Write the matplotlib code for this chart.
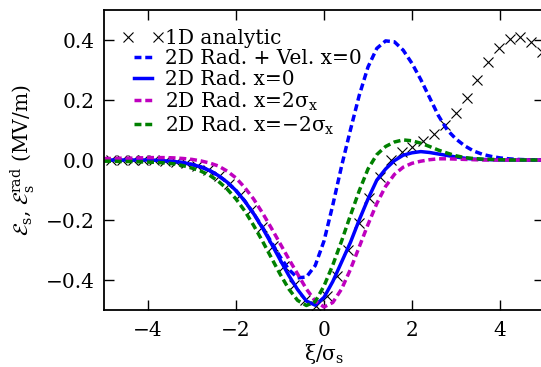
import numpy as np
import matplotlib
matplotlib.use("Agg")
import matplotlib.pyplot as plt
from matplotlib.legend_handler import HandlerLine2D

plt.rcParams["font.family"] = ["DejaVu Serif"]
plt.rcParams["mathtext.fontset"] = "dejavuserif"
plt.rcParams["mathtext.default"] = "rm"

# longitudinal coordinate grid for the 2D field curves (xi / sigma_s)
xi = np.round(np.arange(-5.0, 5.0001, 0.2), 2)

# 2D radiative + velocity field, x = 0
rad_vel_x0 = [0.0, 0.0, 0.0, 0.0, 0.0, 0.0, -0.001, -0.003, -0.005, -0.009,
              -0.015, -0.023, -0.035, -0.052, -0.074, -0.102, -0.137, -0.178, -0.224, -0.273,
              -0.322, -0.365, -0.393, -0.39, -0.352, -0.27, -0.15, -0.02, 0.1, 0.215,
              0.31, 0.372, 0.397, 0.394, 0.366, 0.322, 0.268, 0.208, 0.148, 0.1,
              0.07, 0.047, 0.03, 0.019, 0.012, 0.007, 0.004, 0.002, 0.001, 0.0, 0.0]

# 2D radiative field, x = 0
rad_x0 = [0.0, 0.0, 0.0, 0.0, 0.0, 0.0, -0.001, -0.003, -0.005, -0.009,
          -0.015, -0.023, -0.035, -0.052, -0.074, -0.102, -0.137, -0.179, -0.226, -0.278,
          -0.332, -0.385, -0.432, -0.47, -0.484, -0.458, -0.405, -0.34, -0.275, -0.2,
          -0.13, -0.067, -0.03, -0.002, 0.016, 0.024, 0.028, 0.025, 0.02, 0.015,
          0.01, 0.006, 0.003, 0.002, 0.001, 0.0, 0.0, 0.0, 0.0, 0.0, 0.0]

# 2D radiative field, x = 2 sigma_x
rad_xp2 = [0.005, 0.005, 0.006, 0.006, 0.007, 0.008, 0.008, 0.008, 0.007, 0.005,
           0.002, -0.003, -0.01, -0.02, -0.037, -0.06, -0.092, -0.13, -0.176, -0.226,
           -0.278, -0.33, -0.38, -0.43, -0.47, -0.49, -0.475, -0.43, -0.365, -0.29,
           -0.215, -0.145, -0.088, -0.048, -0.024, -0.011, -0.004, 0.001, 0.004, 0.004,
           0.003, 0.002, 0.001, 0.0, 0.0, 0.0, 0.0, 0.0, 0.0, 0.0, 0.0]

# 2D radiative field, x = -2 sigma_x
rad_xm2 = [-0.004, -0.004, -0.005, -0.005, -0.006, -0.007, -0.008, -0.01, -0.013, -0.019,
           -0.027, -0.037, -0.051, -0.071, -0.097, -0.13, -0.17, -0.218, -0.27, -0.325,
           -0.38, -0.43, -0.468, -0.485, -0.472, -0.42, -0.35, -0.27, -0.185, -0.103,
           -0.03, 0.018, 0.045, 0.06, 0.067, 0.064, 0.056, 0.045, 0.033, 0.023,
           0.014, 0.008, 0.005, 0.003, 0.002, 0.001, 0.0, 0.0, 0.0, 0.0, 0.0]

# 1D analytic result
xi_1d = [-4.84, -4.60, -4.35, -4.11, -3.86, -3.62, -3.37, -3.13, -2.88, -2.64,
         -2.39, -2.15, -1.90, -1.66, -1.41, -1.17, -0.92, -0.68, -0.43, -0.19,
         0.06, 0.30, 0.54, 0.79, 1.03, 1.28, 1.52, 1.77, 2.01, 2.26,
         2.50, 2.75, 2.99, 3.24, 3.48, 3.73, 3.97, 4.22, 4.46, 4.71, 4.95]
e_1d = [0.0, 0.0, 0.0, 0.0, -0.001, -0.003, -0.006, -0.011, -0.02, -0.033,
        -0.053, -0.08, -0.118, -0.165, -0.222, -0.287, -0.353, -0.418, -0.468, -0.485,
        -0.452, -0.385, -0.300, -0.210, -0.125, -0.055, 0.0, 0.028, 0.045, 0.064,
        0.086, 0.117, 0.156, 0.207, 0.268, 0.326, 0.372, 0.402, 0.410, 0.392, 0.360]

xticks = [-4, -2, 0, 2, 4]
yticks = [-0.4, -0.2, 0.0, 0.2, 0.4]

fs = 14.5
fig = plt.figure(figsize=(5.41, 3.67), dpi=100)
ax = fig.add_axes([104 / 541, 57 / 367, 440 / 541, 300 / 367])

lw = 2.5
dash = (2.0, 1.1)
(analytic,) = ax.plot(xi_1d, e_1d, linestyle="none", marker="x", color="black",
                      markersize=7, markeredgewidth=0.8, label="1D analytic")
ax.plot(xi, rad_vel_x0, color="blue", lw=lw, dashes=dash, label="2D Rad. + Vel. x=0")
ax.plot(xi, rad_x0, color="blue", lw=lw, label="2D Rad. x=0")
ax.plot(xi, rad_xp2, color="m", lw=lw, dashes=dash, label=r"2D Rad. x=2$\sigma_{\rm x}$")
ax.plot(xi, rad_xm2, color="green", lw=lw, dashes=dash, label=r"2D Rad. x=$-2\sigma_{\rm x}$")

ax.set_xlim(-5, 5)
ax.set_ylim(-0.5, 0.5)
ax.set_xticks(xticks)
ax.set_yticks(yticks)
ax.tick_params(direction="in", length=7.5, width=1, labelsize=fs,
               top=True, right=True)
ax.tick_params(axis="y", pad=7)
ax.tick_params(axis="x", pad=8)
for sp in ax.spines.values():
    sp.set_linewidth(1.3)

ax.set_xlabel(r"$\xi/\sigma_{\rm s}$", fontsize=fs, labelpad=1)
ax.set_ylabel(r"$\mathcal{E}_{\rm s}$, $\mathcal{E}_{\rm s}^{\rm rad}$ (MV/m)", fontsize=fs,
              labelpad=6)

ax.legend(loc="upper left", frameon=False, fontsize=fs, numpoints=2,
          handlelength=1.5, handletextpad=0.35, labelspacing=0.08,
          borderaxespad=0.0, bbox_to_anchor=(0.036, 0.965),
          handler_map={analytic: HandlerLine2D(marker_pad=0.0, numpoints=2)})

fig.savefig("out.png", dpi=100)
